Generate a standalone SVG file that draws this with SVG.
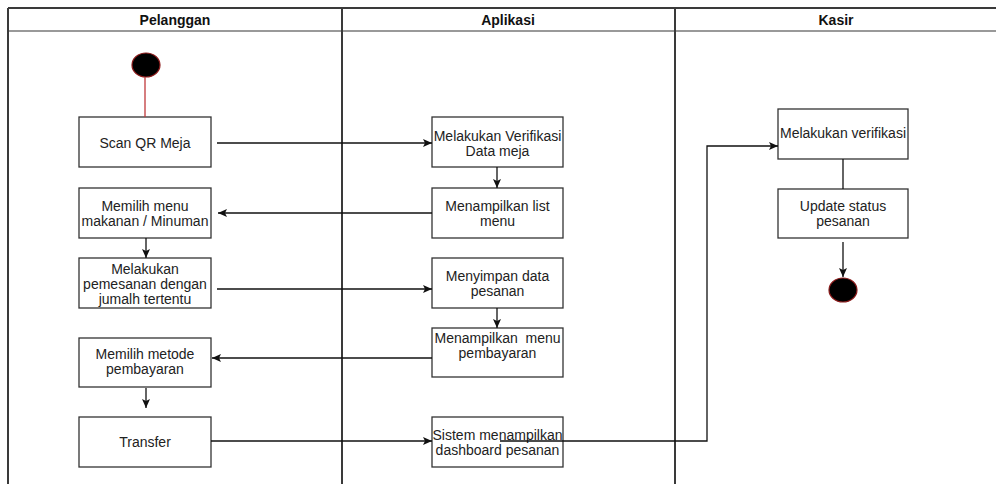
<svg xmlns="http://www.w3.org/2000/svg" width="996" height="484" viewBox="0 0 996 484">
<style>
.lane{stroke:#3a3a3a;stroke-width:2;fill:none}
.hdr{font-family:"Liberation Sans",Arial,sans-serif;font-size:14px;font-weight:bold;fill:#111;text-anchor:middle}
.box{fill:#fff;stroke:#333;stroke-width:1.3}
.t{font-family:"Liberation Sans",Arial,sans-serif;font-size:14px;fill:#222;text-anchor:middle}
.c{stroke:#111;stroke-width:1.3;fill:none}
.dot{fill:#000;stroke:#8b1a1a;stroke-width:1.2}
</style>
<defs>
<marker id="ah" markerWidth="10" markerHeight="8" refX="9" refY="4" orient="auto" markerUnits="userSpaceOnUse">
<path d="M0,0 L9,4 L0,8 L2,4 Z" fill="#111"/>
</marker>
</defs>
<rect width="996" height="484" fill="#fff"/>
<g id="lanes">
<line class="lane" x1="8" y1="8" x2="996" y2="8"/>
<line x1="8" y1="31" x2="996" y2="31" stroke="#777" stroke-width="1.5"/>
<line class="lane" x1="8" y1="8" x2="8" y2="484"/>
<line class="lane" x1="342" y1="8" x2="342" y2="484"/>
<line class="lane" x1="675" y1="8" x2="675" y2="484"/>
<text class="hdr" x="175" y="25">Pelanggan</text>
<text class="hdr" x="508" y="25">Aplikasi</text>
<text class="hdr" x="836" y="25">Kasir</text>
</g>
<g id="start"><ellipse class="dot" cx="146" cy="65" rx="14" ry="12"/></g>
<g id="scan"><rect class="box" x="79" y="117" width="132" height="50"/><text class="t" x="145" y="148">Scan QR Meja</text></g>
<g id="verif-meja"><rect class="box" x="432" y="117" width="131" height="50"/><text class="t" x="497.5" y="141">Melakukan Verifikasi</text><text class="t" x="497.5" y="156">Data meja</text></g>
<g id="list-menu"><rect class="box" x="432" y="188" width="131" height="50"/><text class="t" x="497.5" y="211">Menampilkan list</text><text class="t" x="497.5" y="226">menu</text></g>
<g id="pilih-menu"><rect class="box" x="79" y="188" width="132" height="50"/><text class="t" x="145" y="211">Memilih menu</text><text class="t" x="145" y="226">makanan / Minuman</text></g>
<g id="pesan"><rect class="box" x="79" y="258" width="132" height="50"/><text class="t" x="145" y="274">Melakukan</text><text class="t" x="145" y="289">pemesanan dengan</text><text class="t" x="145" y="304">jumalh tertentu</text></g>
<g id="simpan"><rect class="box" x="432" y="258" width="131" height="50"/><text class="t" x="497.5" y="281">Menyimpan data</text><text class="t" x="497.5" y="296">pesanan</text></g>
<g id="menu-bayar"><rect class="box" x="432" y="328" width="131" height="49"/><text class="t" x="497.5" y="343" xml:space="preserve">Menampilkan  menu</text><text class="t" x="497.5" y="358">pembayaran</text></g>
<g id="metode"><rect class="box" x="79" y="338" width="132" height="49"/><text class="t" x="145" y="359">Memilih metode</text><text class="t" x="145" y="374">pembayaran</text></g>
<g id="transfer"><rect class="box" x="79" y="417" width="132" height="50"/><text class="t" x="145" y="447">Transfer</text></g>
<g id="dashboard"><rect class="box" x="432" y="417" width="131" height="50"/><text class="t" x="497.5" y="440">Sistem menampilkan</text><text class="t" x="497.5" y="455">dashboard pesanan</text></g>
<g id="verif-kasir"><rect class="box" x="778" y="109" width="130" height="50"/><text class="t" x="843" y="138">Melakukan verifikasi</text></g>
<g id="update"><rect class="box" x="778" y="189" width="130" height="49"/><text class="t" x="843" y="211">Update status</text><text class="t" x="843" y="226">pesanan</text></g>
<g id="end"><ellipse class="dot" cx="843" cy="290" rx="14" ry="12"/></g>
<g id="connectors">
<line x1="145" y1="77" x2="145" y2="117" stroke="#c0393b" stroke-width="1.3"/>
<line class="c" x1="217" y1="143" x2="432" y2="143" marker-end="url(#ah)"/>
<line class="c" x1="497" y1="167" x2="497" y2="188" marker-end="url(#ah)"/>
<line class="c" x1="432" y1="213" x2="218" y2="213" marker-end="url(#ah)"/>
<line class="c" x1="146" y1="238" x2="146" y2="258" marker-end="url(#ah)"/>
<line class="c" x1="217" y1="289" x2="432" y2="289" marker-end="url(#ah)"/>
<line class="c" x1="497" y1="308" x2="497" y2="328" marker-end="url(#ah)"/>
<line class="c" x1="432" y1="358" x2="212" y2="358" marker-end="url(#ah)"/>
<line class="c" x1="146" y1="388" x2="146" y2="408" marker-end="url(#ah)"/>
<line class="c" x1="211" y1="441" x2="432" y2="441" marker-end="url(#ah)"/>
<line class="c" x1="843" y1="159" x2="843" y2="189"/>
<line class="c" x1="843" y1="242" x2="843" y2="277" marker-end="url(#ah)"/>
<polyline class="c" points="500,441 707,441 707,146 778,146" marker-end="url(#ah)"/>
</g>
</svg>
